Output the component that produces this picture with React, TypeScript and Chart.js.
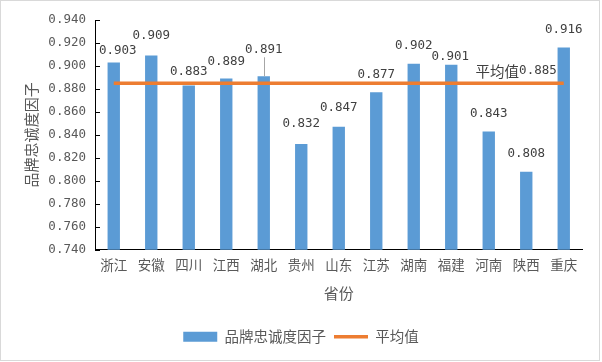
import React, { useEffect, useRef } from "react";
import { Chart, registerables } from "chart.js";

Chart.register(...registerables);

const provinces = ["浙江", "安徽", "四川", "江西", "湖北", "贵州", "山东", "江苏", "湖南", "福建", "河南", "陕西", "重庆"];
const loyalty = [0.903, 0.909, 0.883, 0.889, 0.891, 0.832, 0.847, 0.877, 0.902, 0.901, 0.843, 0.808, 0.916];
const average = [0.885, 0.885, 0.885, 0.885, 0.885, 0.885, 0.885, 0.885, 0.885, 0.885, 0.885, 0.885, 0.885];
const averageLabelValue = 0.885;
const yTicks = [0.74, 0.76, 0.78, 0.8, 0.82, 0.84, 0.86, 0.88, 0.9, 0.92, 0.94];

// label styling (lift above bar top, px) and horizontal nudges
const labelLift = [12, 20, 14, 17, 27, 20, 19, 18, 18, 8, 18, 18, 18];
const labelNudge = [4, 0, 0, 0, 0, 0, 0, 0, 0, -1, 0, 0, 0];

const CJK = "'Noto Sans CJK SC', 'Noto Sans', sans-serif";
const MONO = "'DejaVu Sans Mono', monospace";
const BLUE = "#5B9BD5";
const ORANGE = "#ED7D31";

export default function App() {
  const ref = useRef<HTMLCanvasElement | null>(null);

  useEffect(() => {
    document.body.style.margin = "0";
    const canvas = ref.current;
    if (!canvas) return;

    const framePlugin = {
      id: "frame",
      beforeDraw(chart: any) {
        const ctx = chart.ctx;
        ctx.save();
        ctx.fillStyle = "#ffffff";
        ctx.fillRect(0, 0, chart.width, chart.height);
        ctx.strokeStyle = "#D9D9D9";
        ctx.lineWidth = 1;
        ctx.strokeRect(0.5, 0.5, 599, 360);
        ctx.restore();
      },
      afterDraw(chart: any) {
        const ctx = chart.ctx;
        const y = chart.scales.y;
        ctx.save();
        ctx.strokeStyle = "#000000";
        ctx.lineWidth = 1;
        for (const v of yTicks) {
          const py = Math.round(y.getPixelForValue(v)) + 0.5;
          ctx.beginPath();
          ctx.moveTo(y.right, py);
          ctx.lineTo(y.right + 5, py);
          ctx.stroke();
        }
        ctx.restore();
      },
    };

    const labelPlugin = {
      id: "valueLabels",
      afterDatasetsDraw(chart: any) {
        const ctx = chart.ctx;
        const meta = chart.getDatasetMeta(0);
        ctx.save();
        ctx.font = `12.5px ${MONO}`;
        ctx.fillStyle = "#404040";
        ctx.textAlign = "center";
        ctx.textBaseline = "middle";
        meta.data.forEach((bar: any, i: number) => {
          const cx = bar.x + labelNudge[i];
          const cy = bar.y - labelLift[i];
          ctx.fillText(loyalty[i].toFixed(3), cx, cy);
          if (labelLift[i] > 24) {
            ctx.strokeStyle = "#A6A6A6";
            ctx.lineWidth = 1;
            ctx.beginPath();
            ctx.moveTo(Math.round(bar.x) + 0.5, cy + 8);
            ctx.lineTo(Math.round(bar.x) + 0.5, bar.y);
            ctx.stroke();
          }
        });
        const lmeta = chart.getDatasetMeta(1);
        const last = lmeta.data[lmeta.data.length - 1];
        const rx = last.x - 7;
        const ry = last.y - 12;
        ctx.textAlign = "right";
        ctx.font = `12.5px ${MONO}`;
        const num = averageLabelValue.toFixed(3);
        ctx.fillText(num, rx, ry);
        const w = ctx.measureText(num).width;
        ctx.font = `14.5px ${CJK}`;
        ctx.fillText("平均值", rx - w, ry);
        ctx.restore();
      },
    };

    const chart = new Chart(canvas, {
      type: "bar",
      data: {
        labels: provinces,
        datasets: [
          {
            type: "bar",
            label: "品牌忠诚度因子",
            data: loyalty,
            backgroundColor: BLUE,
            borderWidth: 0,
            barPercentage: 0.33,
            categoryPercentage: 1,
            order: 1,
          },
          {
            type: "line",
            label: "平均值",
            data: average,
            borderColor: ORANGE,
            backgroundColor: ORANGE,
            borderWidth: 3.5,
            pointRadius: 0,
            fill: false,
            order: 0,
          } as any,
        ],
      },
      options: {
        responsive: false,
        animation: false,
        devicePixelRatio: 1,
        layout: { padding: { left: 0, right: 0, top: 20, bottom: 8 } },
        plugins: {
          tooltip: { enabled: false },
          legend: {
            position: "bottom",
            labels: {
              usePointStyle: true,
              pointStyleWidth: 34,
              boxHeight: 10,
              padding: 8,
              color: "#595959",
              font: { family: CJK, size: 14.5 },
              generateLabels: () => [
                {
                  text: "品牌忠诚度因子",
                  fillStyle: BLUE,
                  strokeStyle: BLUE,
                  lineWidth: 0,
                  pointStyle: "rect",
                  datasetIndex: 0,
                  hidden: false,
                  fontColor: "#595959",
                } as any,
                {
                  text: "平均值",
                  fillStyle: ORANGE,
                  strokeStyle: ORANGE,
                  lineWidth: 3.5,
                  pointStyle: "line",
                  datasetIndex: 1,
                  hidden: false,
                  fontColor: "#595959",
                } as any,
              ],
            },
          },
        },
        scales: {
          x: {
            offset: true,
            grid: { display: false, drawTicks: false },
            border: { display: true, color: "#000000", width: 1 },
            ticks: {
              color: "#595959",
              font: { family: CJK, size: 13.5 },
              padding: 7,
              maxRotation: 0,
              autoSkip: false,
            },
            title: {
              display: true,
              text: "省份",
              color: "#595959",
              font: { family: CJK, size: 15 },
              padding: { top: 0, bottom: 19 },
            },
            afterFit(scale: any) {
              scale.height = 71.75;
            },
          },
          y: {
            min: 0.74,
            max: 0.94,
            grid: { display: false, drawTicks: false },
            border: { display: true, color: "#000000", width: 1 },
            ticks: {
              stepSize: 0.02,
              color: "#595959",
              font: { family: MONO, size: 12.5 },
              padding: 9,
              callback: (v: any) => Number(v).toFixed(3),
            },
            afterBuildTicks(scale: any) {
              scale.ticks = yTicks.map((v) => ({ value: v }));
            },
            title: {
              display: true,
              text: "品牌忠诚度因子",
              color: "#595959",
              font: { family: CJK, size: 15 },
              padding: { top: 22, bottom: 0 },
            },
            afterFit(scale: any) {
              scale.width = 95;
            },
          },
          spacer: {
            type: "linear",
            position: "right",
            display: true,
            grid: { display: false, drawTicks: false },
            border: { display: false },
            ticks: { display: false },
            afterFit(scale: any) {
              scale.width = 19.5;
            },
          } as any,
        },
      },
      plugins: [framePlugin, labelPlugin],
    });

    return () => chart.destroy();
  }, []);

  return (
    <div style={{ width: 602, height: 362 }}>
      <canvas ref={ref} width={602} height={362} />
    </div>
  );
}
